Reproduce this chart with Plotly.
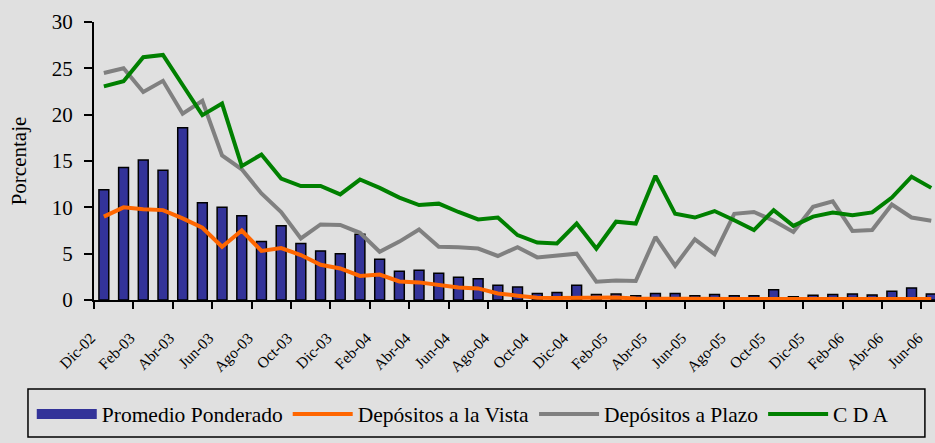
import plotly.graph_objects as go

# ── palette ─────────────────────────────────────────────
BG     = "#E0E0E0"
NAVY   = "#333399"
ORANGE = "#FF6600"
GREY   = "#808080"
GREEN  = "#008000"
FONT   = "Liberation Serif, Times New Roman, serif"

months = [
    "Dic-02", "Ene-03", "Feb-03", "Mar-03", "Abr-03", "May-03", "Jun-03", "Jul-03",
    "Ago-03", "Sep-03", "Oct-03", "Nov-03", "Dic-03", "Ene-04", "Feb-04", "Mar-04",
    "Abr-04", "May-04", "Jun-04", "Jul-04", "Ago-04", "Sep-04", "Oct-04", "Nov-04",
    "Dic-04", "Ene-05", "Feb-05", "Mar-05", "Abr-05", "May-05", "Jun-05", "Jul-05",
    "Ago-05", "Sep-05", "Oct-05", "Nov-05", "Dic-05", "Ene-06", "Feb-06", "Mar-06",
    "Abr-06", "May-06", "Jun-06",
]

promedio = [11.9, 14.3, 15.1, 14.0, 18.6, 10.5, 10.0, 9.1, 6.3, 8.0,
            6.1, 5.3, 5.0, 7.1, 4.4, 3.1, 3.2, 2.9, 2.45, 2.3,
            1.6, 1.4, 0.7, 0.8, 1.6, 0.6, 0.65, 0.45, 0.7, 0.7,
            0.45, 0.6, 0.45, 0.45, 1.1, 0.35, 0.5, 0.6, 0.65, 0.55,
            0.95, 1.3, 0.65]

vista = [9.0, 10.0, 9.8, 9.7, 8.8, 7.8, 5.75, 7.5, 5.3, 5.6,
         4.85, 3.8, 3.4, 2.6, 2.75, 2.0, 1.9, 1.6, 1.35, 1.25,
         0.7, 0.47, 0.25, 0.22, 0.22, 0.2, 0.28, 0.15, 0.12, 0.12,
         0.15, 0.12, 0.1, 0.12, 0.15, 0.1, 0.12, 0.12, 0.1, 0.1,
         0.12, 0.12, 0.12]

plazo = [24.5, 25.0, 22.45, 23.65, 20.1, 21.5, 15.6, 14.1, 11.5, 9.5,
         6.65, 8.15, 8.1, 7.25, 5.2, 6.3, 7.6, 5.75, 5.7, 5.55,
         4.75, 5.7, 4.6, 4.75, 5.0, 1.97, 2.1, 2.05, 6.8, 3.7,
         6.55, 4.95, 9.3, 9.5, 8.55, 7.35, 10.05, 10.65, 7.45, 7.55,
         10.3, 8.9, 8.55]

cda = [23.05, 23.6, 26.2, 26.45, 23.2, 19.95, 21.2, 14.45, 15.7, 13.1,
       12.3, 12.3, 11.4, 13.0, 12.1, 11.05, 10.25, 10.4, 9.5, 8.7,
       8.9, 7.0, 6.2, 6.1, 8.25, 5.55, 8.45, 8.25, 13.4, 9.3,
       8.9, 9.6, 8.6, 7.55, 9.7, 8.0, 9.0, 9.45, 9.15, 9.45,
       11.05, 13.3, 12.1]

y_ticks = [0, 5, 10, 15, 20, 25, 30]

fig = go.Figure()
fig.add_trace(go.Bar(x=months, y=promedio, name="Promedio Ponderado",
                     legendgroup="prom", showlegend=False,
                     marker=dict(color=NAVY, line=dict(color="black", width=1.5))))
# wide swatch for the bar series in the legend
fig.add_trace(go.Scatter(x=[None], y=[None], name="Promedio Ponderado", mode="lines",
                         legendgroup="prom", line=dict(color=NAVY, width=12)))
fig.add_trace(go.Scatter(x=months, y=vista, name="Depósitos a la Vista", mode="lines",
                         line=dict(color=ORANGE, width=4)))
fig.add_trace(go.Scatter(x=months, y=plazo, name="Depósitos a Plazo", mode="lines",
                         line=dict(color=GREY, width=4)))
fig.add_trace(go.Scatter(x=months, y=cda, name="C D A", mode="lines",
                         line=dict(color=GREEN, width=4)))

# legend frame (drawn as a shape so it can span the full width)
fig.add_shape(type="rect", xref="paper", yref="paper",
              x0=-0.0785, x1=0.988, y0=-0.493, y1=-0.320,
              line=dict(color="black", width=1.5), fillcolor="rgba(0,0,0,0)")

fig.update_layout(
    width=935, height=443,
    paper_bgcolor=BG, plot_bgcolor=BG,
    font=dict(family=FONT, color="black"),
    margin=dict(l=94, r=0, t=22, b=143),
    bargap=0.5,
    showlegend=True,
    legend=dict(orientation="h", x=-0.074, xanchor="left", y=-0.41, yanchor="middle",
                font=dict(size=21.5, family=FONT), bgcolor="rgba(0,0,0,0)",
                itemwidth=60, traceorder="normal"),
    xaxis=dict(type="category", range=[-0.5, 42.19], tickmode="array",
               tickvals=months[::2], ticktext=months[::2], tickangle=-45,
               tickson="boundaries", ticks="outside", ticklen=7, tickwidth=1.5,
               tickcolor="black", showline=True, linecolor="black", linewidth=2,
               showgrid=False, tickfont=dict(size=15.5, family=FONT),
               ticklabelshift=-13, ticklabelstandoff=21),
    yaxis=dict(range=[0, 30], tickvals=y_ticks, ticks="outside", ticklen=8,
               tickwidth=1.5, tickcolor="black", showline=True, linecolor="black",
               linewidth=2, showgrid=False, zeroline=False, ticklabelstandoff=7,
               tickfont=dict(size=21, family=FONT),
               title=dict(text="Porcentaje", font=dict(size=21, family=FONT), standoff=19)),
)

fig.write_html("out.html", config={"displayModeBar": False},
               post_script="document.body.style.margin = '0';")
